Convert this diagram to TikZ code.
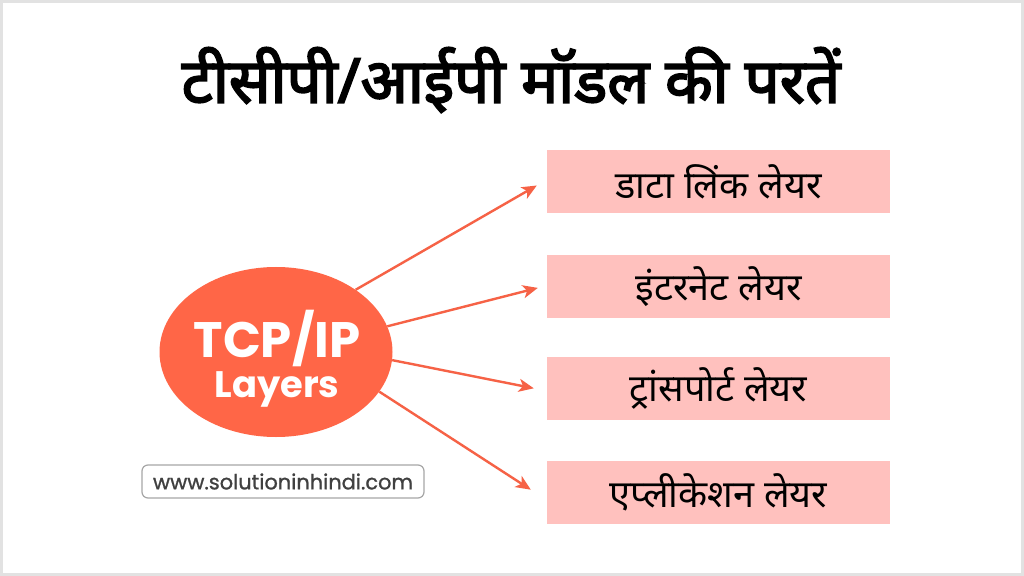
\documentclass[tikz,border=0pt]{standalone}
\usepackage{fontspec}
\usetikzlibrary{shapes.geometric,arrows.meta,positioning}
\newfontfamily\hindi[Script=Devanagari]{Noto Sans}
\newfontfamily\hindititle[Script=Devanagari,FakeBold=3]{Noto Sans}
\newfontfamily\popfont{Poppins}
\newfontfamily\webfont[FakeBold=1]{Poppins}

\definecolor{tcporange}{RGB}{255,102,71}
\definecolor{arroworange}{RGB}{246,98,70}
\definecolor{layerpink}{RGB}{255,193,190}
\definecolor{framegray}{RGB}{226,226,226}

\tikzset{
  layer/.style={rectangle, fill=layerpink, minimum width=343bp, minimum height=63bp,
    inner sep=0pt, font=\hindi\fontsize{38}{42}\selectfont},
  arrow/.style={draw=arroworange, line width=2.4bp,
    -{Stealth[length=15bp,width=13bp,inset=4bp]}},
}

\begin{document}
\begin{tikzpicture}[x=1bp, y=-1bp]
  \useasboundingbox (0,0) rectangle (1024,576);
  % Outer frame
  \draw[framegray, line width=3bp, fill=white] (1.5,1.5) rectangle (1022.5,574.5);

  % Title
  \node (title) at (511,80) {\hindititle\fontsize{62}{68}\selectfont टीसीपी/आईपी मॉडल की परतें};

  % Centre ellipse
  \node[ellipse, fill=tcporange, minimum width=233bp, minimum height=170bp, inner sep=0pt,
    text=white, align=center, font=\popfont\bfseries] (tcp) at (276,352) {};
  \node[text=white, font=\popfont\bfseries\fontsize{50}{50}\selectfont, inner sep=0pt,
    anchor=base] (tcptxt) at (277,357) {TCP/IP};
  \node[text=white, font=\popfont\bfseries\fontsize{37}{40}\selectfont, inner sep=0pt,
    anchor=base] (laytxt) at (277,397) {Layers};

  % Layer boxes
  \node[layer] (dll) at (718.5,181.5) {डाटा लिंक लेयर};
  \node[layer, below=42bp of dll] (inet) {इंटरनेट लेयर};
  \node[layer, below=38bp of inet] (trans) {ट्रांसपोर्ट लेयर};
  \node[layer, below=41bp of trans] (app) {एप्लीकेशन लेयर};

  % Arrows
  \draw[arrow] (tcp.38) -- ([xshift=-10bp,yshift=-4bp]dll.west);
  \draw[arrow] (tcp.13) -- ([xshift=-9bp,yshift=-1bp]inet.west);
  \draw[arrow] (tcp.-4) -- ([xshift=-13bp]trans.west);
  \draw[arrow] (tcp.-21) -- ([xshift=-16bp,yshift=3bp]app.west);

  % Website label
  \node[draw=gray!70, line width=1.2bp, rounded corners=6bp, minimum width=282bp,
    minimum height=33bp, inner sep=0pt, text=black!75,
    font=\webfont\fontsize{21}{24}\selectfont] (web) at (283,481.5) {www.solutioninhindi.com};
\end{tikzpicture}
\end{document}
